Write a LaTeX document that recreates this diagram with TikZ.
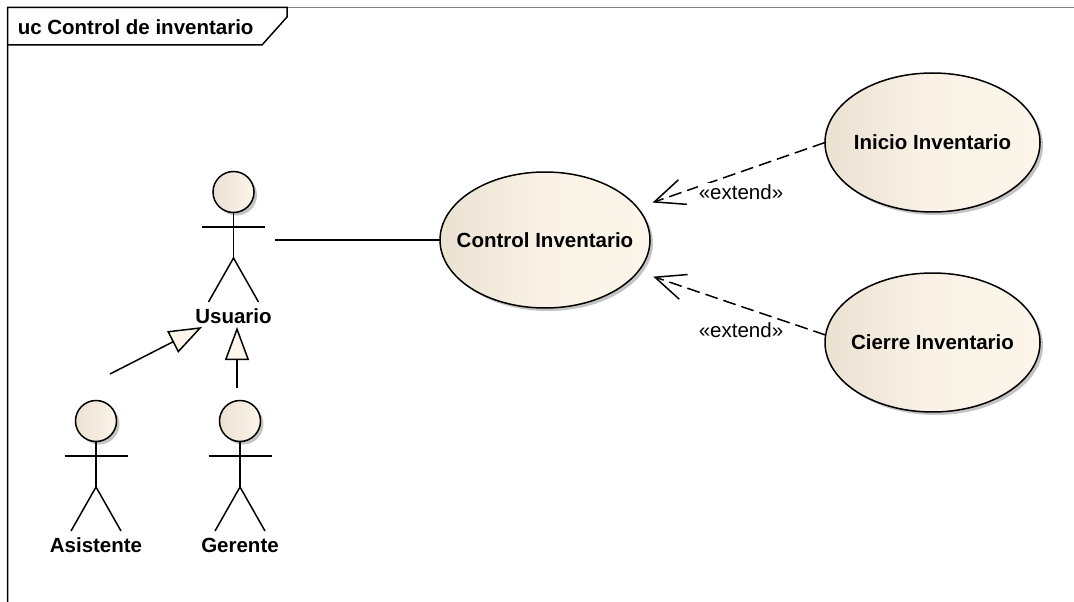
\documentclass[tikz,border=0pt]{standalone}
\usepackage{fontspec}
\setmainfont{Liberation Sans}
\usetikzlibrary{arrows.meta,shapes.geometric,shadows}
\definecolor{ucL}{RGB}{235,225,211}
\definecolor{ucR}{RGB}{252,245,234}
\definecolor{ucShadow}{RGB}{196,196,196}
\definecolor{frameGray}{RGB}{128,128,128}
\begin{document}
\begin{tikzpicture}[x=1pt,y=-1pt, line width=1.5pt,
  font=\fontsize{20.5}{24}\selectfont,
  ucshadow/.style={drop shadow={shadow xshift=3pt, shadow yshift=-3pt, fill=ucShadow, opacity=1}},
  usecase/.style={ellipse, draw, line width=1.5pt, left color=ucL, right color=ucR, middle color=ucR!85!ucL,
    inner sep=0pt, outer sep=0pt, ucshadow, font=\fontsize{20.5}{24}\selectfont\bfseries},
  head/.style={circle, draw, minimum size=41pt, inner sep=0pt, outer sep=0pt,
    left color=ucL, right color=ucR, ucshadow},
  actorname/.style={font=\fontsize{20.5}{24}\selectfont\bfseries, anchor=base, inner sep=1pt},
  assoc/.style={draw, line width=1.5pt},
  extendline/.style={dash pattern=on 13pt off 6pt, -{Straight Barb[length=30pt,width=26pt]}, shorten >=16pt},
  gener/.style={-{Triangle[length=33pt,width=24pt,fill=ucR]}, line join=miter},
  stereo/.style={fill=white, inner sep=1pt, anchor=base, font=\fontsize{20.5}{24}\selectfont},
  actor/.pic={
    \node[head] (-head) at (0,0) {};
    \draw (-head.south) -- (0,66);
    \draw (-31.5,35) -- (31.5,35);
    \draw (-25,110) -- (0,66) -- (25,110);
    \node[actorname] (-label) at (0,131) {#1};
  }
]
\useasboundingbox[fill=white] (0,0) rectangle (1074,602);

% frame
\draw[frameGray] (287,7.5) -- (1074,7.5);
\draw (7.5,602) -- (7.5,7.5) -- (287,7.5) -- (287,17) -- (262,45) -- (7.5,45);
\node[anchor=base west, inner sep=0pt, font=\fontsize{20.5}{24}\selectfont\bfseries] (title) at (17,34.5) {uc Control de inventario};

% use cases
\node[usecase, minimum width=210pt, minimum height=136pt] (ctrl) at (545,240) {\makebox[0pt][c]{Control Inventario}};
\node[usecase, minimum width=215pt, minimum height=139pt] (inicio) at (932.5,142.5) {\makebox[0pt][c]{Inicio Inventario}};
\node[usecase, minimum width=215pt, minimum height=139pt] (cierre) at (932.5,342.5) {\makebox[0pt][c]{Cierre Inventario}};

% actors
\pic (usr) at (233.5,192) {actor=Usuario};
\pic (asi) at (96,421) {actor=Asistente};
\pic (ger) at (240,421) {actor=Gerente};

% association
\coordinate (usrR) at (275,240);
\draw[assoc] (usrR) -- (ctrl.west);

% extends
\draw[extendline] (inicio.west) -- (ctrl);
\draw[extendline] (cierre.176) -- (ctrl);
\node[stereo] (ext1) at (741,199) {«extend»};
\node[stereo] (ext2) at (741,337.5) {«extend»};

% generalizations
\coordinate (asiEnd) at (110,374);
\coordinate (genTipA) at (202,327);
\draw[gener] (asiEnd) -- (genTipA);
\coordinate (gerEnd) at (237,388);
\coordinate (genTipG) at (237,327);
\draw[gener] (gerEnd) -- (genTipG);
\end{tikzpicture}
\end{document}
